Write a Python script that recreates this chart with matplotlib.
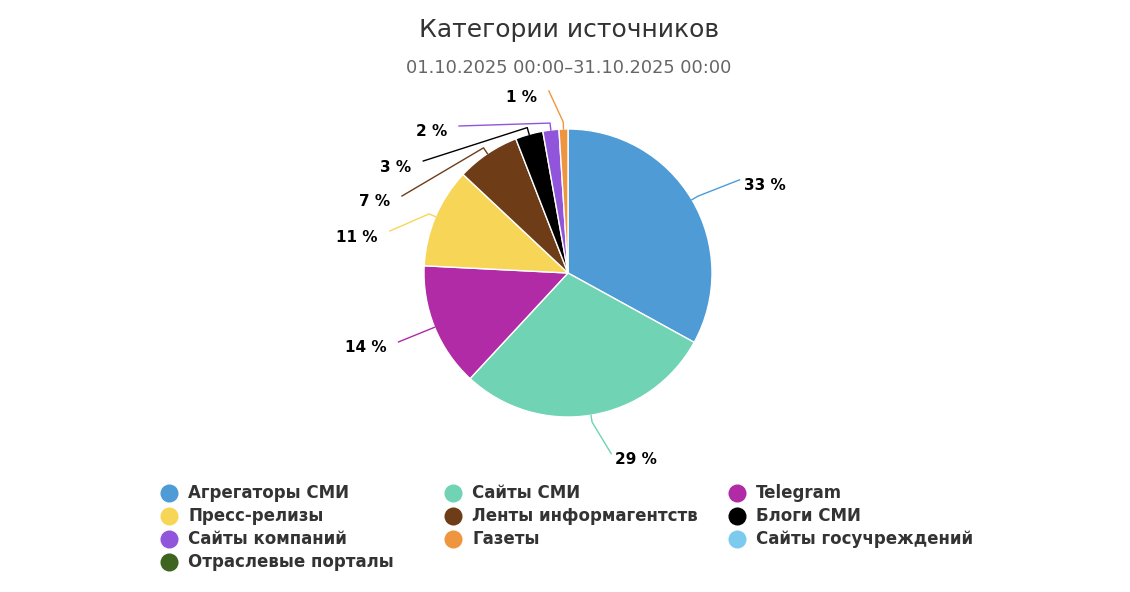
import numpy as np
import matplotlib.pyplot as plt

# Data
categories = ["Агрегаторы СМИ", "Сайты СМИ", "Telegram", "Пресс-релизы",
              "Ленты информагентств", "Блоги СМИ", "Сайты компаний", "Газеты",
              "Сайты госучреждений", "Отраслевые порталы"]
shares = [33.0, 28.9, 13.9, 11.2, 7.1, 3.1, 1.8, 1.0, 0.0, 0.0]
colors = ["#4f9bd6", "#6fd3b4", "#b02ba5", "#f7d657", "#6e3d17",
          "#000000", "#9155dc", "#f0953f", "#7ccbef", "#3e6420"]

title = "Категории источников"
subtitle = "01.10.2025 00:00–31.10.2025 00:00"

# Layout (pixel coordinates, y downward)
W, H = 1130, 592
cx, cy, r = 568, 273, 144
R = 183          # label circle
gap = 35         # min vertical distance between labels

fig = plt.figure(figsize=(W / 100, H / 100), dpi=100)
ax = fig.add_axes([0, 0, 1, 1])

vals = [v for v in shares if v > 0]
cols = [c for v, c in zip(shares, colors) if v > 0]
wedges, _ = ax.pie(vals, colors=cols, center=(cx, cy), radius=r,
                   startangle=-90, counterclock=True,
                   wedgeprops=dict(edgecolor="white", linewidth=1))
ax.set_xlim(0, W)
ax.set_ylim(H, 0)
ax.set_aspect("auto")
ax.axis("off")

# Data labels with connectors
labels = []
for w, v in zip(wedges, vals):
    mid = np.deg2rad((w.theta1 + w.theta2) / 2)
    ex, ey = cx + r * np.cos(mid), cy + r * np.sin(mid)
    kx, ky = cx + (r + 7) * np.cos(mid), cy + (r + 7) * np.sin(mid)
    left = np.cos(mid) < 0
    labels.append(dict(v=v, c=w.get_facecolor(), left=left, edge=(ex, ey),
                       crook=(kx, ky), y=cy + R * np.sin(mid)))

# push overlapping labels down, one side at a time
for side in (True, False):
    group = sorted([l for l in labels if l["left"] == side], key=lambda l: l["y"])
    prev = -1e9
    for l in group:
        l["y"] = min(max(l["y"], prev + gap, cy - R + 1), cy + R)
        prev = l["y"]

for l in labels:
    dy = l["y"] - cy
    dx = np.sqrt(max(R ** 2 - dy ** 2, 0))
    if l["left"]:
        xe = cx - dx
        tx, ha = xe - 12, "right"
    else:
        xe = cx + dx + 14
        tx, ha = xe + 4, "left"
    ax.plot([l["edge"][0], l["crook"][0], xe], [l["edge"][1], l["crook"][1], l["y"]],
            color=l["c"], lw=1, solid_joinstyle="round")
    ax.text(tx, l["y"] + 6, f"{l['v']:.0f} %", ha=ha, va="center",
            fontsize=11, fontweight="bold", color="black")

# Titles
ax.text(W / 2 + 4, 30, title, ha="center", va="center", fontsize=18, color="#333333")
ax.text(W / 2 + 4, 68, subtitle, ha="center", va="center", fontsize=12.8, color="#666666")

# Legend, three columns, filled row by row
for i, (name, c) in enumerate(zip(categories, colors)):
    row, col = divmod(i, 3)
    x0 = 169 + 284 * col
    y0 = 493 + 23 * row
    ax.plot(x0, y0, "o", ms=13, color=c, mec="none")
    ax.text(x0 + 19, y0, name, ha="left", va="center", fontsize=12,
            fontweight="bold", color="#333333")

fig.savefig("out.png", dpi=100)
